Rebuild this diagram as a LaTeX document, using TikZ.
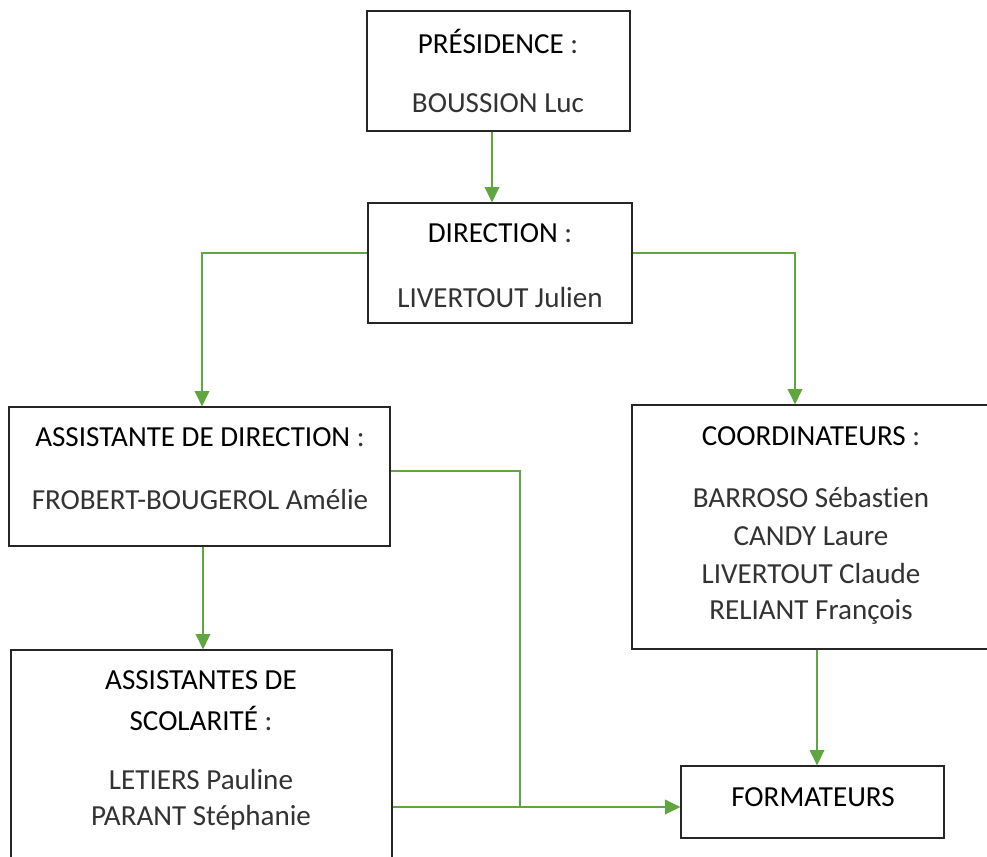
\documentclass[tikz,border=0pt]{standalone}
\usepackage{fontspec}
\setmainfont{Carlito}[Ligatures={NoCommon,NoDiscretionary,NoRare}]
\usetikzlibrary{arrows.meta,fit,calc}
\definecolor{lgreen}{HTML}{5FA63F}
\definecolor{boxline}{HTML}{262626}
\definecolor{lighttxt}{HTML}{333333}
\newcommand{\colonlight}{~\textcolor{lighttxt}{:}}
\begin{document}
\begin{tikzpicture}[x=0.75pt,y=-0.75pt,
  orgbox/.style={draw=boxline,line width=0.95pt,inner sep=0pt,fill=white},
  headtxt/.style={font=\fontsize{21.8}{28}\selectfont,text=black,inner sep=0pt,anchor=center},
  nametxt/.style={font=\fontsize{21.8}{28}\selectfont,text=lighttxt,inner sep=0pt,anchor=center},
  conn/.style={draw=lgreen,line width=1.1pt},
  arr/.style={conn,-{Triangle[length=11.5pt,width=11pt]}}]
\useasboundingbox (0,0) rectangle (987,856);
\clip (0,0) rectangle (987,856);
% boxes
\node[orgbox,fit={(367,11) (630,131)}] (pres) {};
\node[orgbox,fit={(368,203) (632,323)}] (dir) {};
\node[orgbox,fit={(9,407) (390,546)}] (asst) {};
\node[orgbox,fit={(632,405) (1010,649)}] (coord) {};
\node[orgbox,fit={(11,650) (392,880)}] (scol) {};
\node[orgbox,fit={(681,766) (944,838)}] (form) {};
% texts
\node[headtxt] (t1) at (498,41) {PRÉSIDENCE\colonlight};
\node[nametxt] (t2) at (498,103) {BOUSSION Luc};
\node[headtxt] (t3) at (500,233) {DIRECTION\colonlight};
\node[nametxt] (t4) at (500,298) {LIVERTOUT Julien};
\node[headtxt] (t5) at (200,437) {ASSISTANTE DE DIRECTION\colonlight};
\node[nametxt] (t6) at (200,500) {FROBERT-BOUGEROL Amélie};
\node[headtxt] (t7) at (811,436) {COORDINATEURS\colonlight};
\node[nametxt] (t8) at (811,498) {BARROSO Sébastien};
\node[nametxt] (t9) at (811,536) {CANDY Laure};
\node[nametxt] (t10) at (811,574) {LIVERTOUT Claude};
\node[nametxt] (t11) at (811,612) {RELIANT François};
\node[headtxt] (t12) at (201,680) {ASSISTANTES DE};
\node[headtxt] (t13) at (201,718) {SCOLARITÉ\colonlight};
\node[nametxt] (t14) at (201,780) {LETIERS Pauline};
\node[nametxt] (t15) at (201,818) {PARANT Stéphanie};
\node[headtxt] (t16) at (813,797) {FORMATEURS};
% helper coordinates
\coordinate (xa) at (492,0);
\coordinate (ya) at (0,253);
\coordinate (xb) at (202,0);
\coordinate (xc) at (795,0);
\coordinate (xd) at (203,0);
\coordinate (xe) at (817,0);
\coordinate (yf) at (0,471);
\coordinate (j) at (520,807);
% connectors
\draw[arr] (pres.south -| xa) -- (dir.north -| xa);
\draw[arr] (dir.west |- ya) -| (asst.north -| xb);
\draw[arr] (dir.east |- ya) -| (coord.north -| xc);
\draw[arr] (asst.south -| xd) -- (scol.north -| xd);
\draw[arr] (coord.south -| xe) -- (form.north -| xe);
\draw[conn] (asst.east |- yf) -| (j);
\draw[arr] (scol.east |- j) -- (form.west |- j);
\end{tikzpicture}
\end{document}
